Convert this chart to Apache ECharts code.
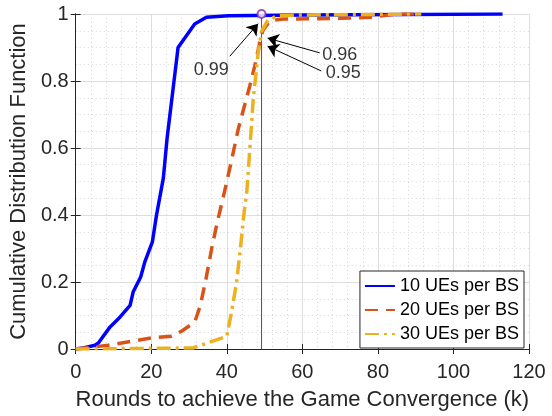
<!DOCTYPE html>
<html>
<head>
<meta charset="utf-8">
<script src="https://cdn.jsdelivr.net/npm/echarts@6/dist/echarts.min.js"></script>
<style>html,body{margin:0;padding:0;background:#fff;}#c{width:552px;height:416px;}</style>
</head>
<body>
<div id="c"></div>
<script>
// ---- data ----
const seriesNames = ['10 UEs per BS', '20 UEs per BS', '30 UEs per BS'];
const ue10 = [[0,0],[2,0.003],[5.1,0.011],[6,0.018],[9.1,0.066],[11.3,0.09],[14.4,0.13],[15.2,0.17],[17.2,0.215],[18.3,0.26],[20.3,0.32],[21.4,0.4],[23.2,0.51],[24.2,0.63],[27.1,0.9],[31.5,0.97],[34.6,0.99],[40.4,0.995],[60,0.997],[113,1]];
const ue20 = [[0,0],[8.6,0.011],[20,0.033],[25.4,0.038],[28,0.053],[31.5,0.08],[33,0.13],[34.5,0.21],[36,0.3],[37.5,0.38],[39,0.45],[41.2,0.56],[43,0.655],[46.1,0.786],[47.4,0.845],[48.7,0.913],[49.5,0.95],[51.4,0.98],[55,0.985],[70,0.987],[78,0.99],[85,1],[91.5,1]];
const ue30 = [[0,0],[31,0.003],[40,0.038],[41.2,0.107],[42.6,0.2],[43.6,0.3],[44.5,0.4],[45.3,0.47],[46.3,0.63],[47,0.746],[48.3,0.884],[49.2,0.948],[50.9,0.982],[53.6,0.995],[60,0.997],[91.5,1]];
const markerX = 49.2;
const markerLine = [[markerX,0],[markerX,1]];
const markerPoint = [[markerX,1]];
const annotTexts = [[35.9,0.832,'0.99'],[69.9,0.879,'0.96'],[70.8,0.823,'0.95']];
const annotArrows = [
  [[40.8,0.874],[48.3,0.971]],
  [[64.6,0.884],[50.8,0.928]],
  [[65.0,0.830],[50.8,0.904]]
];
const xTicks = {min:0, max:120, interval:20};
const yTicks = {min:0, max:1, interval:0.2};

const FONT = 'Liberation Sans, Arial, Helvetica, sans-serif';
const chart = echarts.init(document.getElementById('c'), null, {renderer:'canvas'});
const gridLine = {show:true, lineStyle:{color:'#dedede', width:1}};
const minorLine = {show:true, lineStyle:{color:'#d6d6d6', width:1, type:[1,3]}};
const axisLine = {show:true, lineStyle:{color:'#262626', width:1}};
chart.setOption({
  animation:false,
  backgroundColor:'#fff',
  textStyle:{fontFamily:FONT},
  grid:{left:74, top:14, width:455, height:339, containLabel:false},
  xAxis:[{
    type:'value', min:xTicks.min, max:xTicks.max, interval:xTicks.interval,
    axisLine:axisLine,
    axisTick:{show:true, inside:true, length:5, lineStyle:{color:'#262626'}},
    axisLabel:{fontSize:20, color:'#262626', margin:13, fontFamily:FONT},
    splitLine:gridLine,
    minorTick:{show:false, splitNumber:5},
    minorSplitLine:minorLine,
    name:'Rounds to achieve the Game Convergence (k)', nameLocation:'middle', nameGap:40,
    nameTextStyle:{fontSize:22, color:'#262626', fontFamily:FONT}
  },{
    type:'value', position:'top', min:xTicks.min, max:xTicks.max, interval:xTicks.interval,
    axisLine:axisLine,
    axisTick:{show:true, inside:true, length:5, lineStyle:{color:'#262626'}},
    axisLabel:{show:false}, splitLine:{show:false}
  }],
  yAxis:[{
    type:'value', min:yTicks.min, max:yTicks.max, interval:yTicks.interval,
    axisLine:axisLine,
    axisTick:{show:true, inside:true, length:5, lineStyle:{color:'#262626'}},
    axisLabel:{fontSize:20, color:'#262626', margin:7, fontFamily:FONT,
      formatter:v=>String(Math.round(v*10)/10)},
    splitLine:gridLine,
    minorTick:{show:false, splitNumber:4},
    minorSplitLine:minorLine,
    name:'Cumulative Distribution Function', nameLocation:'middle', nameGap:37,
    nameTextStyle:{fontSize:22, color:'#262626', fontFamily:FONT}
  },{
    type:'value', position:'right', min:yTicks.min, max:yTicks.max, interval:yTicks.interval,
    axisLine:axisLine,
    axisTick:{show:true, inside:true, length:5, lineStyle:{color:'#262626'}},
    axisLabel:{show:false}, splitLine:{show:false}
  }],
  legend:{
    data:seriesNames, orient:'vertical', right:28, bottom:68,
    backgroundColor:'#fff', borderColor:'#262626', borderWidth:1,
    padding:[6,5,5,4], itemGap:6, itemWidth:30, itemHeight:14,
    itemStyle:{color:'rgba(0,0,0,0)', borderColor:'rgba(0,0,0,0)', borderWidth:0, opacity:0},
    textStyle:{fontSize:18, color:'#000', fontFamily:FONT}
  },
  series:[
    {name:'purple', type:'line', data:markerLine, symbol:'none', silent:true, color:'#7E2F8E',
     lineStyle:{color:'#8A2BA0', width:1}, z:1},
    {name:seriesNames[0], type:'line', data:ue10, symbol:'none', color:'#0000FF',
     lineStyle:{color:'#0000FF', width:3.5}, z:3},
    {name:seriesNames[1], type:'line', data:ue20, symbol:'none', color:'#D95319',
     lineStyle:{color:'#D95319', width:3.5, type:[13,8]}, z:4},
    {name:seriesNames[2], type:'line', data:ue30, symbol:'none', color:'#EDB120',
     lineStyle:{color:'#EDB120', width:3.5, type:[14,5,3,5]}, z:5},
    {name:'marker', type:'scatter', data:markerPoint, symbol:'emptyCircle', symbolSize:8,
     itemStyle:{color:'#8A2BA0', borderColor:'#8A2BA0', borderWidth:1}, z:6},
    {name:'arrows', type:'lines', coordinateSystem:'cartesian2d', polyline:false,
     data:annotArrows.map(a=>({coords:a})), symbol:['none','arrow'], symbolSize:11,
     lineStyle:{color:'#000', width:1, opacity:1}, z:7},
    {name:'annot', type:'scatter', data:annotTexts, symbolSize:0, z:8,
     label:{show:true, position:'inside', formatter:p=>p.value[2], fontSize:18, color:'#000', fontFamily:FONT}}
  ]
});
</script>
</body>
</html>
